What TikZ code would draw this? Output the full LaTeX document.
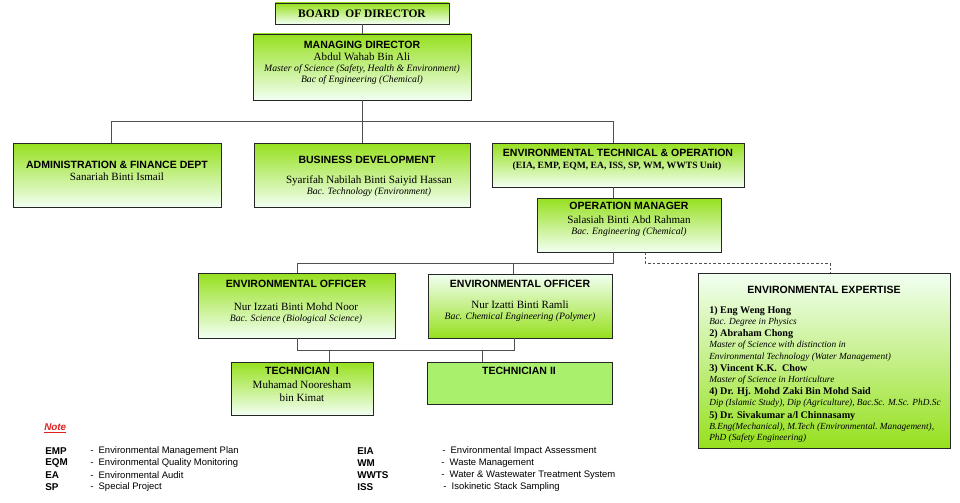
\documentclass[tikz,border=0pt]{standalone}
\usepackage{fontspec}
\setmainfont{Liberation Serif}
\setsansfont{Liberation Sans}
\usetikzlibrary{fit,shadows}
\definecolor{gtop}{HTML}{96E01E}
\definecolor{gbot}{HTML}{F2FFF2}
\definecolor{gflat}{HTML}{A9F06C}
\definecolor{linec}{HTML}{505050}
\definecolor{notered}{HTML}{E02020}
\begin{document}
\begin{tikzpicture}[x=0.75pt,y=-0.75pt,
  box/.style={draw=black!85, line width=0.6pt, inner sep=0pt,
    drop shadow={shadow xshift=0.9pt,shadow yshift=-0.9pt,opacity=0.3}},
  gdown/.style={top color=gtop, bottom color=gbot},
  gup/.style={top color=gbot, bottom color=gtop},
  gflatfill/.style={fill=gflat},
  conn/.style={draw=linec, line width=0.7pt},
  dconn/.style={draw=linec, line width=0.7pt, dash pattern=on 2pt off 1.5pt},
  hd/.style={font=\sffamily\bfseries\fontsize{7.9}{9}\selectfont, inner sep=0pt},
  nm/.style={font=\fontsize{8.3}{9}\selectfont, inner sep=0pt},
  it/.style={font=\itshape\fontsize{7.3}{8}\selectfont, inner sep=0pt},
  eb/.style={font=\bfseries\fontsize{7.6}{8}\selectfont, inner sep=0pt, anchor=west},
  ei/.style={font=\itshape\fontsize{7}{8}\selectfont, inner sep=0pt, anchor=west},
  ab/.style={font=\sffamily\bfseries\fontsize{7.4}{8}\selectfont, inner sep=0pt, anchor=west},
  ad/.style={font=\sffamily\fontsize{7.1}{8}\selectfont, inner sep=0pt, anchor=west}]
\useasboundingbox (0,0) rectangle (960,503);

% boxes
\node[box, gdown, fit={(275,3) (449,24)}] (board) {};
\node[box, gdown, fit={(253,34) (471,100)}] (md) {};
\node[box, gdown, fit={(13,143) (221,207)}] (admin) {};
\node[box, gdown, fit={(254,143) (470,207)}] (bus) {};
\node[box, gdown, fit={(492,143) (744,187)}] (envt) {};
\node[box, gdown, fit={(537,198) (721,252)}] (om) {};
\node[box, gdown, fit={(198,273) (395,338)}] (eo1) {};
\node[box, gup, fit={(428,274) (612,338)}] (eo2) {};
\node[box, gdown, fit={(231,362) (373,415)}] (tech1) {};
\node[box, gflatfill, fit={(427,362) (612,404)}] (tech2) {};
\node[box, gup, fit={(698,273) (950,448)}] (ee) {};

% connector coordinates
\coordinate (busmid) at (362,121);
\coordinate (busl) at (111,121);
\coordinate (busr) at (613,121);
\coordinate (omj) at (613,263);
\coordinate (eoj1) at (297,263);
\coordinate (eoj2) at (513,263);
\coordinate (tj1) at (297,350);
\coordinate (tj2) at (514,350);
\coordinate (tt1) at (329,350);
\coordinate (tt2) at (482,350);
\coordinate (dsa) at (645,252);
\coordinate (dsb) at (645,263);
\coordinate (dsc) at (830,263);

% connectors
\draw[conn] (board.south) -- (md.north);
\draw[conn] (md.south) -- (busmid);
\draw[conn] (busl) -- (busr);
\draw[conn] (busl) -- (busl |- admin.north);
\draw[conn] (busmid) -- (bus.north);
\draw[conn] (busr) -- (busr |- envt.north);
\draw[conn] (omj |- envt.south) -- (omj |- om.north);
\draw[conn] (omj |- om.south) -- (omj) -- (eoj1) -- (eoj1 |- eo1.north);
\draw[conn] (eoj2) -- (eoj2 |- eo2.north);
\draw[conn] (tj1 |- eo1.south) -- (tj1) -- (tj2) -- (tj2 |- eo2.south);
\draw[conn] (tt1) -- (tt1 |- tech1.north);
\draw[conn] (tt2) -- (tt2 |- tech2.north);
\draw[dconn] (dsa) -- (dsb) -- (dsc) -- (dsc |- ee.north);

% texts
\node[font=\bfseries\fontsize{8.6}{9}\selectfont, inner sep=0pt] (tboard) at (362,13.5) {BOARD\ \ OF DIRECTOR};

\node[hd] (tmd1) at (362,45) {MANAGING DIRECTOR};
\node[nm] (tmd2) at (362,57) {Abdul Wahab Bin Ali};
\node[it] (tmd3) at (362,69) {Master of Science (Safety, Health \& Environment)};
\node[it] (tmd4) at (362,80) {Bac of Engineering (Chemical)};

\node[hd] (tad1) at (117,165) {ADMINISTRATION \& FINANCE DEPT};
\node[nm] (tad2) at (117,177) {Sanariah Binti Ismail};

\node[hd] (tbu1) at (367,160) {BUSINESS DEVELOPMENT};
\node[nm] (tbu2) at (369,181) {Syarifah Nabilah Binti Saiyid Hassan};
\node[it] (tbu3) at (369,192) {Bac. Technology (Environment)};

\node[hd] (tet1) at (618,153) {ENVIRONMENTAL TECHNICAL \& OPERATION};
\node[font=\bfseries\fontsize{7.2}{8}\selectfont, inner sep=0pt] (tet2) at (617,166) {(EIA, EMP, EQM, EA, ISS, SP, WM, WWTS Unit)};

\node[hd] (tom1) at (629,206) {OPERATION MANAGER};
\node[nm] (tom2) at (629,220) {Salasiah Binti Abd Rahman};
\node[it] (tom3) at (629,232) {Bac. Engineering (Chemical)};

\node[hd] (te11) at (296,284) {ENVIRONMENTAL OFFICER};
\node[nm] (te12) at (296,307) {Nur Izzati Binti Mohd Noor};
\node[it] (te13) at (296,319) {Bac. Science (Biological Science)};

\node[hd] (te21) at (520,284) {ENVIRONMENTAL OFFICER};
\node[nm] (te22) at (520,305) {Nur Izatti Binti Ramli};
\node[it] (te23) at (520,317) {Bac. Chemical Engineering (Polymer)};

\node[hd] (tt11) at (302,371) {TECHNICIAN\ \ I};
\node[nm] (tt12) at (302,385) {Muhamad Nooresham};
\node[nm] (tt13) at (302,398) {bin Kimat};

\node[hd] (tt21) at (519,371) {TECHNICIAN II};

\node[hd] (tee) at (824,290) {ENVIRONMENTAL EXPERTISE};
\node[eb] (ee1) at (709,311) {1) Eng Weng Hong};
\node[ei] (ee1a) at (709,322) {Bac. Degree in Physics};
\node[eb] (ee2) at (709,334) {2) Abraham Chong};
\node[ei] (ee2a) at (709,345) {Master of Science with distinction in};
\node[ei] (ee2b) at (709,357) {Environmental Technology (Water Management)};
\node[eb] (ee3) at (709,369) {3) Vincent K.K.\ \ Chow};
\node[ei] (ee3a) at (709,380) {Master of Science in Horticulture};
\node[eb] (ee4) at (709,392) {4) Dr. Hj. Mohd Zaki Bin Mohd Said};
\node[ei] (ee4a) at (709,403) {Dip (Islamic Study), Dip (Agriculture), Bac.Sc. M.Sc. PhD.Sc};
\node[eb] (ee5) at (709,416) {5) Dr. Sivakumar a/l Chinnasamy};
\node[ei] (ee5a) at (709,427) {B.Eng(Mechanical), M.Tech (Environmental.\ Management),};
\node[ei] (ee5b) at (709,438) {PhD (Safety Engineering)};

% note
\node[font=\sffamily\bfseries\itshape\fontsize{7.4}{8}\selectfont, text=notered, inner sep=0pt, anchor=west] (note) at (44,428) {\underline{Note}};

\node[ab] (la1) at (45,451) {EMP};
\node[ab] (la2) at (45,463) {EQM};
\node[ab] (la3) at (45,475) {EA};
\node[ab] (la4) at (45,487) {SP};
\node[ad] (ld1) at (90,451) {-\ \ Environmental Management Plan};
\node[ad] (ld2) at (90,463) {-\ \ Environmental Quality Monitoring};
\node[ad] (ld3) at (90,475) {-\ \ Environmental Audit};
\node[ad] (ld4) at (90,487) {-\ \ Special Project};

\node[ab] (lb1) at (357,451) {EIA};
\node[ab] (lb2) at (357,463) {WM};
\node[ab] (lb3) at (357,475) {WWTS};
\node[ab] (lb4) at (357,487) {ISS};
\node[ad] (le1) at (442,451) {-\ \ Environmental Impact Assessment};
\node[ad] (le2) at (441,463) {-\ \ Waste Management};
\node[ad] (le3) at (441,475) {-\ \ Water \& Wastewater Treatment System};
\node[ad] (le4) at (443,487) {-\ \ Isokinetic Stack Sampling};
\end{tikzpicture}
\end{document}
